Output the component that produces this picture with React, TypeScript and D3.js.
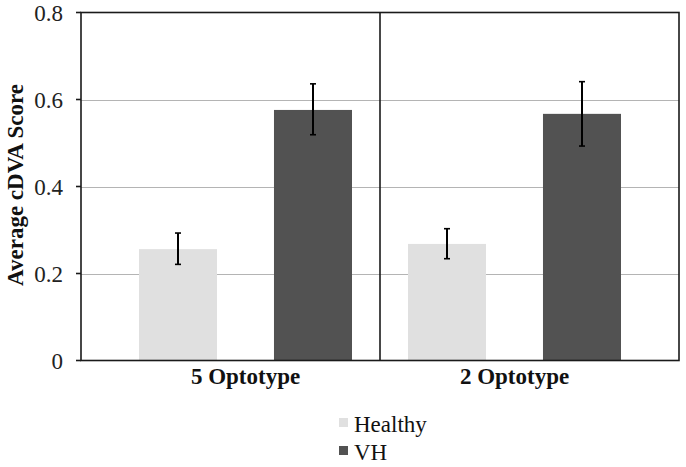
import React, { useEffect, useRef } from 'react';
import * as d3 from 'd3';

const categories = ['5 Optotype', '2 Optotype'];
const seriesNames = ['Healthy', 'VH'];
const seriesColors = ['#e0e0e0', '#525252'];
const healthyValues = [0.256, 0.268];
const healthyErrLow = [0.221, 0.234];
const healthyErrHigh = [0.293, 0.303];
const vhValues = [0.576, 0.567];
const vhErrLow = [0.519, 0.493];
const vhErrHigh = [0.636, 0.641];
const yTicks = [0, 0.2, 0.4, 0.6, 0.8];

const FONT = "'Liberation Serif', 'DejaVu Serif', serif";

const App: React.FC = () => {
  const svgRef = useRef<SVGSVGElement>(null);

  useEffect(() => {
    if (!svgRef.current) return;
    const svg = d3.select(svgRef.current);
    svg.selectAll('*').remove();

    const left = 81;
    const right = 679;
    const top = 12.5;
    const bottom = 360.5;

    const y = d3.scaleLinear().domain([0, 0.8]).range([bottom, top]);
    const x = d3.scaleBand<string>().domain(categories).range([left, right]);
    const bw = x.bandwidth();
    const inner = d3
      .scaleBand<string>()
      .domain(seriesNames)
      .range([43, bw - 43])
      .paddingInner(0.422)
      .paddingOuter(0);
    // bars in each group lean toward the middle divider
    const shift = (i: number) => (i === 0 ? 15 : -15);

    // gridlines
    yTicks
      .filter(t => t > 0 && t < 0.8)
      .forEach(t => {
        svg
          .append('line')
          .attr('x1', left)
          .attr('x2', right)
          .attr('y1', Math.round(y(t)) + 0.5)
          .attr('y2', Math.round(y(t)) + 0.5)
          .attr('stroke', '#b4b4b4')
          .attr('stroke-width', 1.2);
      });

    const data = [
      { values: healthyValues, lo: healthyErrLow, hi: healthyErrHigh },
      { values: vhValues, lo: vhErrLow, hi: vhErrHigh },
    ];

    categories.forEach((cat, ci) => {
      const gx = (x(cat) ?? 0) + shift(ci);
      seriesNames.forEach((s, si) => {
        const d = data[si];
        const bx = gx + (inner(s) ?? 0);
        svg
          .append('rect')
          .attr('x', bx)
          .attr('y', y(d.values[ci]))
          .attr('width', inner.bandwidth())
          .attr('height', bottom - y(d.values[ci]))
          .attr('fill', seriesColors[si]);
        const cx = bx + inner.bandwidth() / 2;
        svg
          .append('line')
          .attr('x1', cx)
          .attr('x2', cx)
          .attr('y1', y(d.hi[ci]))
          .attr('y2', y(d.lo[ci]))
          .attr('stroke', '#000')
          .attr('stroke-width', 2);
        [d.hi[ci], d.lo[ci]].forEach(v => {
          svg
            .append('line')
            .attr('x1', cx - 3)
            .attr('x2', cx + 3)
            .attr('y1', y(v))
            .attr('y2', y(v))
            .attr('stroke', '#000')
            .attr('stroke-width', 1.6);
        });
      });
      // category label, centred under the bar pair
      const pairCenter = gx + bw / 2;
      svg
        .append('text')
        .attr('x', pairCenter)
        .attr('y', 384)
        .attr('text-anchor', 'middle')
        .style('font-family', FONT)
        .attr('font-weight', 'bold')
        .attr('font-size', 23)
        .attr('fill', '#111')
        .text(cat);
    });

    // frame and divider
    svg
      .append('rect')
      .attr('x', left)
      .attr('y', top)
      .attr('width', right - left)
      .attr('height', bottom - top)
      .attr('fill', 'none')
      .attr('stroke', '#1a1a1a')
      .attr('stroke-width', 1.6);
    svg
      .append('line')
      .attr('x1', x(categories[1]) ?? 0)
      .attr('x2', x(categories[1]) ?? 0)
      .attr('y1', top)
      .attr('y2', bottom)
      .attr('stroke', '#1a1a1a')
      .attr('stroke-width', 1.6);

    // y ticks + labels
    yTicks.forEach(t => {
      svg
        .append('line')
        .attr('x1', left - 5)
        .attr('x2', left)
        .attr('y1', y(t))
        .attr('y2', y(t))
        .attr('stroke', '#1a1a1a')
        .attr('stroke-width', 1.6);
      svg
        .append('text')
        .attr('x', 63)
        .attr('y', y(t))
        .attr('dy', '0.35em')
        .attr('text-anchor', 'end')
        .style('font-family', FONT)
        .attr('font-size', 23)
        .attr('fill', '#222')
        .text(t === 0 ? '0' : d3.format('.1f')(t));
    });

    // y axis title
    svg
      .append('text')
      .attr('transform', `translate(23, 185) rotate(-90)`)
      .attr('text-anchor', 'middle')
      .style('font-family', FONT)
      .attr('font-weight', 'bold')
      .attr('font-size', 23)
      .attr('fill', '#111')
      .text('Average cDVA Score');

    // legend
    seriesNames.forEach((s, i) => {
      const ly = 432 + i * 28;
      svg
        .append('rect')
        .attr('x', 339)
        .attr('y', ly - 14)
        .attr('width', 9)
        .attr('height', 9)
        .attr('fill', seriesColors[i]);
      svg
        .append('text')
        .attr('x', 354)
        .attr('y', ly)
        .style('font-family', FONT)
        .attr('font-size', 23)
        .attr('fill', '#111')
        .text(s);
    });
  }, []);

  return (
    <svg
      ref={svgRef}
      width={686}
      height={467}
      style={{ position: 'absolute', left: 0, top: 0, background: '#fff' }}
    />
  );
};

export default App;
